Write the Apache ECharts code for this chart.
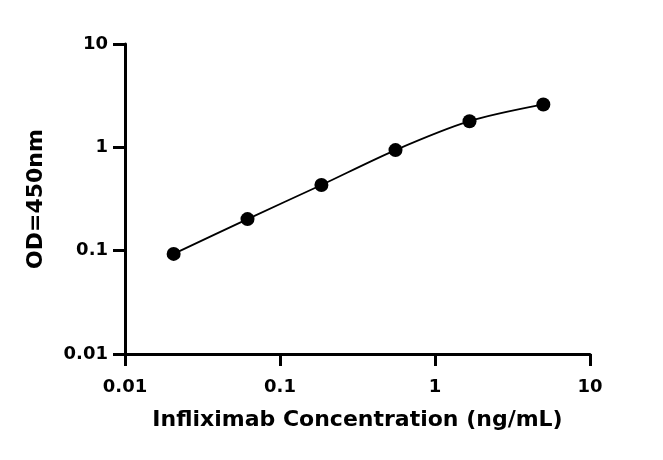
<!DOCTYPE html>
<html>
<head>
<meta charset="utf-8">
<script src="https://cdn.jsdelivr.net/npm/echarts@6/dist/echarts.min.js"></script>
<style>
  html, body { margin: 0; padding: 0; background: #fff; }
  #chart { width: 663px; height: 460px; }
</style>
</head>
<body>
<div id="chart"></div>
<script>
// concentrations (ng/mL), 3-fold dilution series
const concentrations = [0.0206, 0.0617, 0.185, 0.556, 1.67, 5.0];
// measured OD at 450 nm
const odValues = [0.093, 0.202, 0.432, 0.94, 1.79, 2.6];
const xTickLabels = ["0.01", "0.1", "1", "10"];
const yTickLabels = ["0.01", "0.1", "1", "10"];

const font = "DejaVu Sans, Arial, sans-serif";

const points = concentrations.map((c, i) => [c, odValues[i]]);

const labelFor = (labels) => (v) => {
  const idx = Math.round(Math.log10(v)) + 2;
  return labels[idx] !== undefined ? labels[idx] : "";
};

const chart = echarts.init(document.getElementById("chart"));

const option = {
  backgroundColor: "#fff",
  animation: false,
  grid: { left: 125, right: 73, top: 44, bottom: 106 },
  xAxis: {
    type: "log",
    logBase: 10,
    min: 0.01,
    max: 10,
    name: "Infliximab Concentration (ng/mL)",
    nameLocation: "middle",
    nameGap: 55,
    nameTextStyle: { color: "#000", fontSize: 22, fontWeight: "bold", fontFamily: font },
    axisLine: { onZero: false, lineStyle: { color: "#000", width: 3 } },
    axisTick: { length: 12, lineStyle: { color: "#000", width: 3 } },
    minorTick: { show: false },
    splitLine: { show: false },
    axisLabel: {
      margin: 24,
      color: "#000",
      fontSize: 18,
      fontWeight: "bold",
      fontFamily: font,
      formatter: labelFor(xTickLabels),
    },
  },
  yAxis: {
    type: "log",
    logBase: 10,
    min: 0.01,
    max: 10,
    name: "OD=450nm",
    nameLocation: "middle",
    nameGap: 78,
    nameRotate: 90,
    nameTextStyle: { color: "#000", fontSize: 22, fontWeight: "bold", fontFamily: font },
    axisLine: { onZero: false, lineStyle: { color: "#000", width: 3 } },
    axisTick: { length: 12, lineStyle: { color: "#000", width: 3 } },
    minorTick: { show: false },
    splitLine: { show: false },
    axisLabel: {
      margin: 17,
      color: "#000",
      fontSize: 18,
      fontWeight: "bold",
      fontFamily: font,
      formatter: labelFor(yTickLabels),
    },
  },
  series: [
    {
      name: "fit",
      type: "line",
      data: points,
      smooth: 0.3,
      symbol: "none",
      lineStyle: { color: "#000", width: 1.8 },
      z: 2,
    },
    {
      name: "OD",
      type: "scatter",
      data: points,
      symbol: "circle",
      symbolSize: 14,
      itemStyle: { color: "#000", opacity: 1 },
      z: 3,
    },
  ],
};

chart.setOption(option);
</script>
</body>
</html>
